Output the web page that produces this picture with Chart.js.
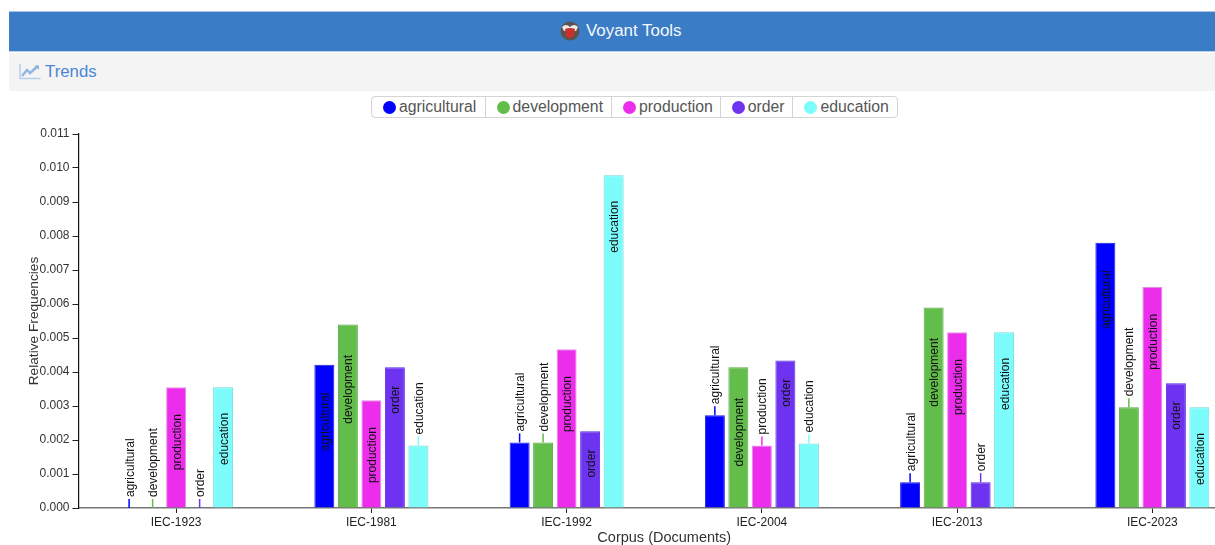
<!DOCTYPE html>
<html>
<head>
<meta charset="utf-8">
<title>Voyant Tools - Trends</title>
<script src="https://cdn.jsdelivr.net/npm/chart.js@4"></script>
<style>
html,body{margin:0;padding:0;width:1215px;height:545px;overflow:hidden;background:#fff;font-family:"Liberation Sans",Arial,sans-serif}
#head{position:absolute;left:9px;right:0;top:11px;height:41px;background:#3b7cc7;border-top:1px solid #a9c4e4;border-bottom:1px solid #b9cfe9;box-sizing:border-box;color:#f4f8fc;font-size:16.9px}
#head svg{position:absolute;left:551px;top:9px}
#head span{position:absolute;left:577px;top:9px;white-space:nowrap}
#bar{position:absolute;left:9px;right:0;top:53px;height:38px;background:#f4f4f4;color:#4a87d6;font-size:16.8px}
#bar svg{position:absolute;left:10px;top:10px}
#bar span{position:absolute;left:36px;top:9px}
#legend{position:absolute;left:371px;top:96px;height:22px;width:527px;box-sizing:border-box;border:1px solid #d4d4d4;border-radius:4px;display:flex;background:#fff;color:#555;font-size:15.8px}
#legend div{box-sizing:border-box;height:20px;line-height:18px;border-right:1px solid #d4d4d4;padding-left:11px;padding-bottom:1px;white-space:nowrap;display:flex;align-items:center}
#legend div:last-child{border-right:none}
#legend i{display:inline-block;width:13px;height:13px;border-radius:50%;margin-right:3px;margin-top:1px;flex:none}
canvas{position:absolute;left:0;top:0}
</style>
</head>
<body>
<div id="head"><svg width="20" height="20" viewBox="0 0 20 20"><circle cx="10" cy="10" r="9.5" fill="#5a5450"/><path d="M2 6 Q6 2 10 6 Q14 2 18 6 L16 10 L4 10Z" fill="#efeae6"/><path d="M5 8 Q10 6 15 8 L14 15 Q10 19 6 15Z" fill="#c8302c"/></svg><span>Voyant Tools</span></div>
<div id="bar"><svg width="22" height="17" viewBox="0 0 22 17" fill="none"><path d="M1 1V15.5H21.5" stroke="#b5cde9" stroke-width="1.5"/><path d="M3 13L8 7L11 10L19 3" stroke="#8fb4e0" stroke-width="2.4"/><path d="M15.5 2.5H20V7Z" fill="#8fb4e0"/></svg><span>Trends</span></div>
<div id="legend"></div>
<canvas id="c" width="1250" height="545"></canvas>
<script>
const categories = ["IEC-1923","IEC-1981","IEC-1992","IEC-2004","IEC-2013","IEC-2023"];
const terms = ["agricultural","development","production","order","education"];
const agricultural = [0, 0.00421, 0.00193, 0.00273, 0.00076, 0.00780];
const development  = [0, 0.00540, 0.00193, 0.00414, 0.00590, 0.00296];
const production   = [0.00355, 0.00317, 0.00467, 0.00184, 0.00517, 0.00650];
const order        = [0, 0.00414, 0.00226, 0.00434, 0.00076, 0.00367];
const education    = [0.00355, 0.00184, 0.00979, 0.00190, 0.00517, 0.00296];
const fills   = ["#0000ff","#62bd4a","#ec2eec","#6e33f0","#7dfcfc"];
const borders = ["#1a1ae0","#5aa548","#e58ce5","#5a2ae0","#6fdada"];
const series  = [agricultural,development,production,order,education];
const legendWidths = [114,127,109,73,104];

const lg = document.getElementById('legend');
terms.forEach((t,i)=>{
  const d=document.createElement('div');
  d.style.width=legendWidths[i]+'px';
  const c=document.createElement('i'); c.style.background=fills[i];
  d.appendChild(c); d.appendChild(document.createTextNode(t));
  lg.appendChild(d);
});

const termLabels = {
  id:'termLabels',
  afterDatasetsDraw(chart){
    const ctx=chart.ctx;
    chart.data.datasets.forEach((ds,di)=>{
      chart.getDatasetMeta(di).data.forEach(bar=>{
        ctx.save();
        ctx.font='12px "Liberation Sans", Arial, sans-serif';
        const len=ctx.measureText(ds.label).width;
        const h=bar.base-bar.y;
        const inset=10+0.3*len;
        let start;
        if(inset+len+10<h){
          start=bar.y+inset+len;
        }else{
          ctx.strokeStyle=ds.backgroundColor;
          ctx.lineWidth=1.5;
          ctx.beginPath();ctx.moveTo(bar.x,bar.y);ctx.lineTo(bar.x,bar.y-9);ctx.stroke();
          start=bar.y-11;
        }
        ctx.translate(bar.x+4.5,start);
        ctx.rotate(-Math.PI/2);
        ctx.fillStyle='#111';
        ctx.textBaseline='alphabetic';
        ctx.textAlign='left';
        ctx.fillText(ds.label,0,0);
        ctx.restore();
      });
    });
  }
};

new Chart(document.getElementById('c'),{
  type:'bar',
  data:{
    labels:categories,
    datasets:terms.map((t,i)=>({
      label:t,data:series[i],backgroundColor:fills[i],borderColor:borders[i],
      borderWidth:1,categoryPercentage:0.602,barPercentage:0.85
    }))
  },
  plugins:[termLabels],
  options:{
    responsive:false,animation:false,
    layout:{padding:{top:134,left:0,right:0,bottom:0}},
    plugins:{legend:{display:false},tooltip:{enabled:false}},
    scales:{
      x:{
        afterFit(s){s.height=37;},
        border:{color:'#777',width:1.5},
        grid:{drawOnChartArea:false,offset:false,color:'#222',tickLength:5},
        ticks:{color:'#222',font:{size:12,family:'"Liberation Sans", Arial, sans-serif'},padding:2,maxRotation:0},
        title:{display:true,text:'Corpus (Documents)',color:'#333',font:{size:14.5,family:'"Liberation Sans", Arial, sans-serif'},padding:{top:0,bottom:-2}}
      },
      y:{
        min:0,max:0.011,
        afterFit(s){s.width=78.5;},
        border:{color:'#111',width:1.2},
        grid:{drawOnChartArea:false,color:'#222',tickLength:6},
        ticks:{stepSize:0.001,color:'#333',font:{size:12,family:'"Liberation Sans", Arial, sans-serif'},padding:3,callback:v=>v.toFixed(3)},
        title:{display:true,text:'Relative Frequencies',color:'#333',font:{size:13.7,family:'"Liberation Sans", Arial, sans-serif'},padding:{top:26,bottom:0}}
      }
    }
  }
});
</script>
</body>
</html>
